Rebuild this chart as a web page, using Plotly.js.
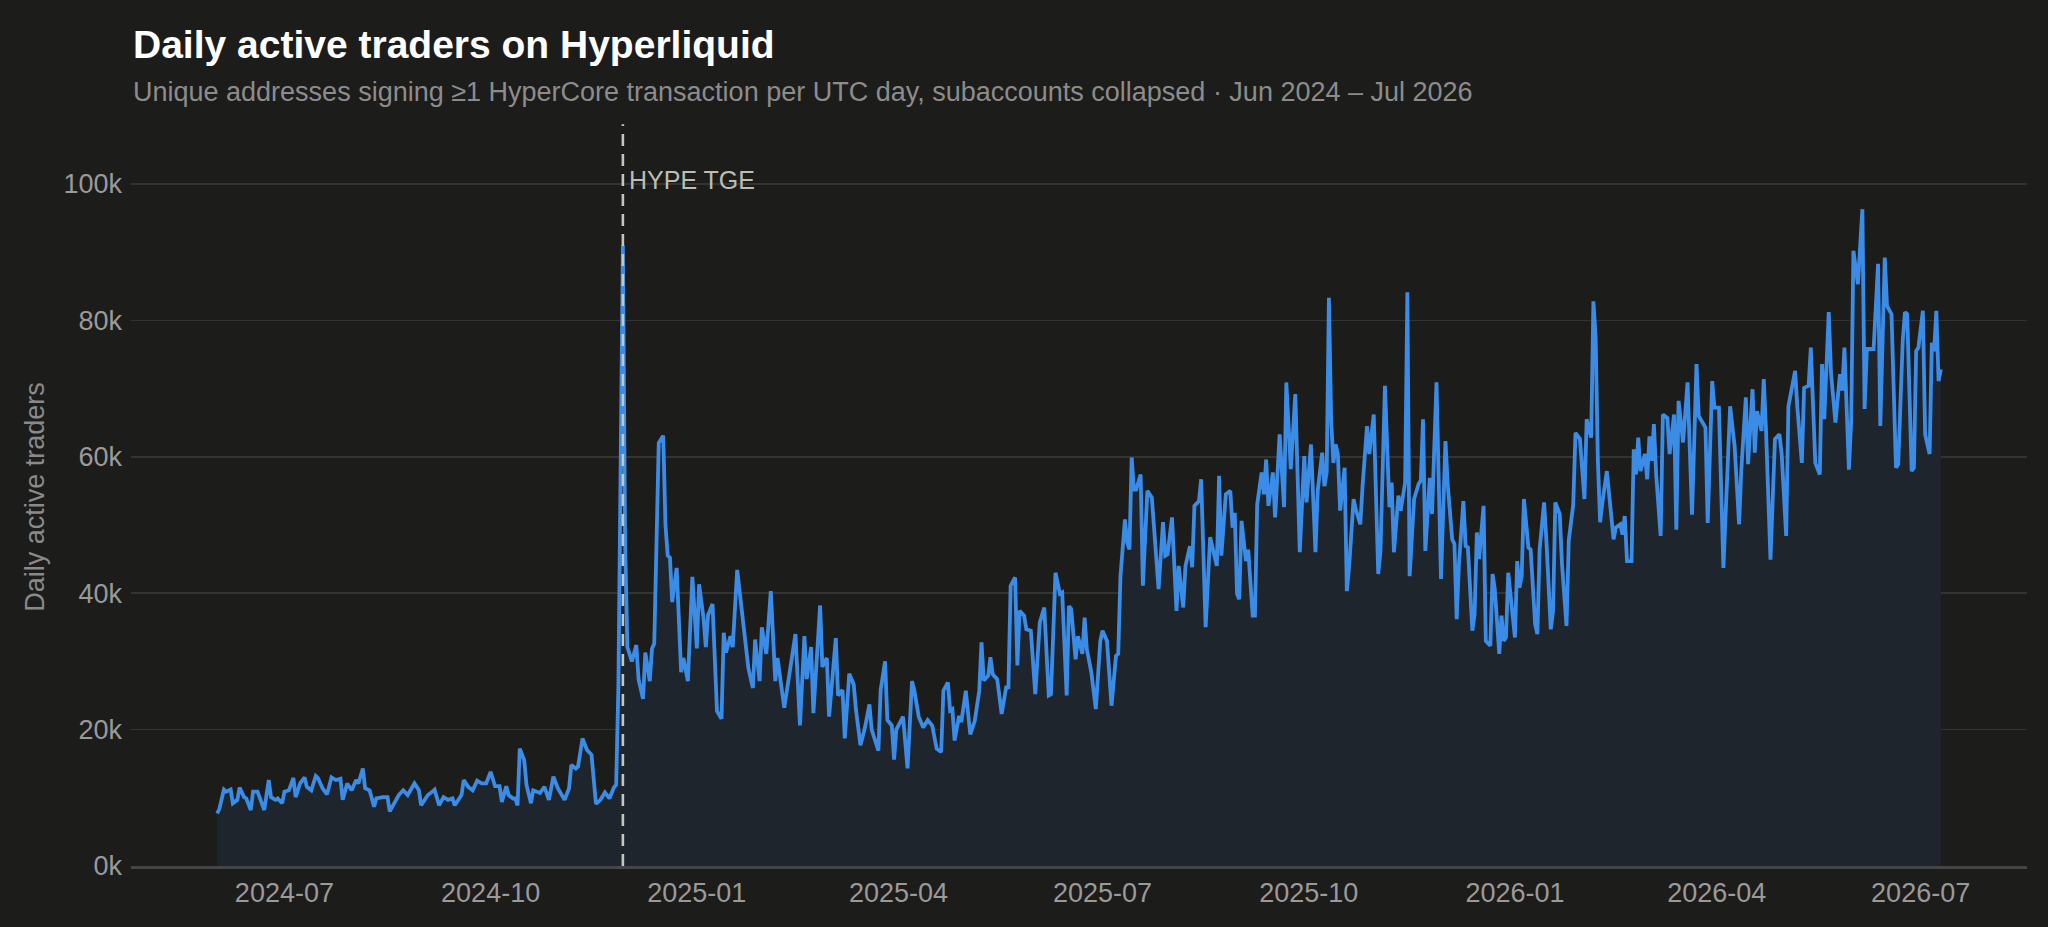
<!DOCTYPE html>
<html>
<head>
<meta charset="utf-8">
<script src="https://cdn.plot.ly/plotly-3.0.1.min.js"></script>
<style>
  html, body { margin: 0; padding: 0; background: #1c1c1b; }
  #chart { width: 2048px; height: 927px; }
</style>
</head>
<body>
<div id="chart"></div>
<script>
// days since 2024-06-01 and daily active traders (thousands)
const startDate = "2024-06-01";
const tgeDate = "2024-11-29";

const dayOffset = [
  0,1,3,4,6,7,9,10,12,13,15,16,18,19,21,23,24,26,27,29,30,32,34,35,37,39,40,42,44,45,
  47,49,51,53,55,56,58,60,62,63,65,66,68,70,71,74,76,77,80,81,83,85,88,90,91,94,96,97,99,101,
  103,105,106,109,110,112,114,116,118,120,122,124,126,127,129,130,132,133,134,135,137,138,140,141,144,145,146,148,150,152,
  153,155,157,158,160,161,163,165,167,168,169,171,173,175,177,178,
  179,181,182,183,185,187,188,190,191,193,194,195,197,199,200,201,202,203,205,207,208,210,212,214,215,217,218,219,221,223,
  225,226,227,229,230,232,234,235,237,239,240,242,243,245,247,249,250,253,255,258,260,262,263,265,266,269,270,272,273,276,
  277,279,280,282,284,285,287,289,291,292,295,296,298,299,301,302,303,306,308,310,311,313,315,317,319,321,
  323,324,326,327,328,329,331,332,334,336,338,340,341,342,344,345,346,348,350,352,353,354,356,357,358,360,361,363,365,367,
  369,371,372,374,376,377,379,380,381,383,384,386,387,388,390,392,394,395,397,399,401,402,403,405,406,407,408,409,410,412,
  413,415,417,418,420,422,423,424,426,428,429,431,432,434,435,436,438,439,441,443,444,446,447,448,450,452,453,454,455,456,
  457,459,460,462,463,464,466,467,468,469,471,472,474,476,477,
  479,481,482,483,485,486,488,490,491,493,494,495,496,497,498,499,500,501,503,504,505,507,508,510,511,513,514,516,518,519,
  521,523,524,525,527,528,530,531,532,534,536,537,538,539,541,542,544,546,548,549,551,552,553,554,556,557,558,560,561,562,
  563,565,566,568,569,570,572,573,574,575,576,577,579,580,581,582,583,585,586,588,589,590,592,593,595,596,597,599,600,602,
  603,605,606,608,610,611,613,614,615,616,617,618,620,
  623,624,626,627,628,629,631,632,633,634,635,637,638,639,640,641,642,644,645,647,648,650,651,652,654,656,658,659,660,661,
  664,665,667,668,670,672,674,675,677,679,680,682,683,685,686,687,689,690,691,693,695,697,698,700,701,704,705,707,708,710,
  711,713,715,716,717,719,720,722,724,725,726,728,729,730,732,733,734,735,736,739,741,742,744,745,747,749,750,752,753,754,
  756,757,758,759,761,762,764,765,766,767,768,769
];

const tradersK = [
  7.7,8.4,11.2,10.9,11.2,9.2,9.7,11.5,10.1,9.9,8.2,10.9,10.9,9.9,8.2,12.6,10.1,9.7,9.9,9.2,10.9,11.1,12.9,10.1,12.1,13.0,11.6,11.1,13.2,12.9,
  11.4,10.5,13.0,12.6,12.8,9.7,12.1,11.1,12.6,12.1,14.3,11.4,11.1,8.7,9.9,10.1,10.1,8.0,9.9,10.4,11.1,10.4,12.1,11.1,8.9,10.4,10.9,11.2,8.9,10.1,
  9.7,9.9,8.9,10.4,12.6,11.6,11.1,12.5,12.1,12.1,13.8,11.7,11.7,9.4,11.7,10.4,9.9,9.9,8.9,17.2,15.5,11.9,9.2,11.1,10.7,11.1,11.6,9.7,13.1,11.4,
  10.9,9.7,11.4,14.8,14.3,14.6,18.7,17.0,16.3,12.1,9.1,9.7,10.8,9.9,11.5,11.9,
  26.3,91.0,47.3,32.1,30.0,32.4,27.4,24.5,31.3,27.1,31.9,32.6,62.0,63.1,50.0,45.5,45.2,38.7,43.7,28.4,30.5,27.1,42.4,31.9,41.3,36.3,32.1,36.8,38.4,22.7,
  21.6,34.2,31.3,33.7,32.1,43.4,37.9,35.5,29.0,26.1,33.2,27.1,35.0,31.1,40.3,27.1,30.5,23.2,27.7,34.0,20.6,33.7,27.4,32.1,22.4,38.2,29.2,30.5,21.9,33.4,
  25.0,25.8,18.7,28.2,26.6,22.9,17.7,20.3,23.7,20.0,16.9,25.8,30.0,21.4,20.6,15.6,20.0,21.9,14.3,27.1,25.8,21.9,20.3,21.4,20.6,17.2,
  16.7,25.7,26.9,22.8,23.0,18.4,22.0,21.1,25.7,19.3,21.3,25.7,32.8,27.2,27.9,30.6,28.1,27.4,22.3,26.2,26.2,41.1,42.3,29.4,37.4,36.7,34.7,34.5,25.2,35.7,
  37.9,25.0,25.2,43.0,39.9,40.1,25.0,38.1,37.7,30.3,33.7,31.1,36.4,31.8,28.4,23.0,33.0,34.5,33.0,23.5,30.8,31.1,42.5,50.8,47.4,46.4,59.9,55.2,55.2,57.4,
  41.1,55.0,54.0,49.4,40.6,50.4,45.5,45.7,51.1,37.4,44.0,37.9,44.0,46.9,43.8,52.8,53.5,56.7,35.0,48.2,46.9,44.0,57.2,45.5,54.5,55.0,49.6,51.8,39.9,39.1,
  50.6,44.7,46.4,36.7,36.7,53.0,57.7,54.5,59.6,52.8,57.7,51.1,63.3,52.6,70.9,
  58.2,69.2,58.4,46.0,60.1,53.3,61.8,46.0,55.0,60.6,55.7,57.7,83.3,65.3,59.1,61.8,60.4,52.1,58.4,40.3,43.8,53.8,52.3,50.1,55.7,64.5,60.4,66.2,42.8,46.2,
  70.4,52.6,56.2,46.0,54.3,52.1,56.2,84.1,42.5,53.8,56.0,56.5,65.5,46.2,56.9,51.6,70.9,42.1,62.3,56.0,47.9,47.2,36.2,44.2,53.5,46.9,46.7,34.5,36.9,48.9,
  45.0,52.8,33.0,32.3,42.8,40.6,31.1,36.7,33.0,33.5,43.0,40.1,33.5,44.7,40.8,42.5,53.8,46.7,46.4,35.5,34.0,46.4,53.3,47.9,34.7,37.4,53.3,51.6,44.2,35.2,
  47.7,53.0,63.5,62.6,53.8,65.5,62.8,82.8,77.5,59.4,50.4,53.3,57.9,
  47.9,49.6,50.1,48.6,51.3,44.7,44.7,61.1,57.4,62.8,57.9,60.4,56.7,63.0,59.4,64.8,57.4,48.4,66.2,65.7,60.4,66.2,49.3,68.2,62.1,70.9,51.5,61.8,73.6,66.0,
  64.3,50.3,71.1,67.2,67.2,43.7,60.8,67.4,61.6,50.1,58.1,68.7,58.9,69.9,60.6,66.7,63.8,71.4,64.0,44.9,62.6,63.3,60.4,48.4,67.4,72.6,67.2,59.1,70.1,70.4,
  76.0,59.1,57.4,73.6,65.5,81.2,72.3,65.0,72.1,69.7,76.0,58.1,65.2,90.2,85.3,90.0,96.3,67.0,75.8,75.8,88.3,64.5,89.2,82.1,80.9,58.4,58.9,77.0,81.2,80.9,
  57.9,58.4,75.5,76.0,81.4,63.3,60.4,76.7,75.5,81.4,71.1,72.8
];

const yTickVals = [0, 20, 40, 60, 80, 100];
const yTickText = ["0k", "20k", "40k", "60k", "80k", "100k"];

const DAY = 86400000;
const t0 = Date.parse(startDate + "T00:00:00Z");
const toDate = (d) => new Date(t0 + d * DAY).toISOString().slice(0, 10);
const dates = dayOffset.map(toDate);

// matplotlib-style 5% padding around the data span
const span = dayOffset[dayOffset.length - 1] - dayOffset[0];
const xRange = [
  new Date(t0 - 0.05 * span * DAY).toISOString(),
  new Date(t0 + (dayOffset[dayOffset.length - 1] + 0.05 * span) * DAY).toISOString()
];

const font = "Liberation Sans, Arial, Helvetica, sans-serif";

const trace = {
  x: dates,
  y: tradersK,
  type: "scatter",
  mode: "lines",
  fill: "tozeroy",
  fillcolor: "#1f252d",
  line: { color: "#3a8ce6", width: 3.8 },
  hoverinfo: "skip"
};

const layout = {
  width: 2048,
  height: 927,
  paper_bgcolor: "#1c1c1b",
  plot_bgcolor: "#1c1c1b",
  margin: { l: 131, r: 21, t: 128, b: 61 },
  showlegend: false,
  font: { family: font, color: "#9a9a9a" },
  xaxis: {
    type: "date",
    range: xRange,
    tick0: "2024-07-01",
    dtick: "M3",
    tickformat: "%Y-%m",
    showgrid: false,
    zeroline: false,
    showline: true,
    linecolor: "#454545",
    linewidth: 2.5,
    ticks: "",
    ticklabelstandoff: 1,
    tickfont: { family: font, size: 27, color: "#9a9a9a" }
  },
  yaxis: {
    range: [0, 108.2],
    tickvals: yTickVals,
    ticktext: yTickText,
    showgrid: true,
    gridcolor: "#333333",
    gridwidth: 1.5,
    zeroline: false,
    showline: false,
    ticks: "",
    ticklabelstandoff: 8,
    tickfont: { family: font, size: 27, color: "#9a9a9a" },
    title: {
      text: "Daily active traders",
      standoff: 10,
      font: { family: font, size: 27, color: "#8a8a8a" }
    }
  },
  shapes: [
    {
      type: "line",
      xref: "x", yref: "paper",
      x0: tgeDate, x1: tgeDate, y0: 0, y1: 1.005,
      line: { color: "#c6c6bd", width: 2.6, dash: "12px,8px" },
      layer: "above"
    }
  ],
  annotations: [
    {
      xref: "paper", yref: "paper", x: 0, y: 1.113,
      xanchor: "left", yanchor: "middle", showarrow: false,
      text: "<b>Daily active traders on Hyperliquid</b>",
      font: { family: font, size: 39, color: "#ffffff" }
    },
    {
      xref: "paper", yref: "paper", x: 0, y: 1.049,
      xanchor: "left", yanchor: "middle", showarrow: false,
      text: "Unique addresses signing ≥1 HyperCore transaction per UTC day, subaccounts collapsed · Jun 2024 – Jul 2026",
      font: { family: font, size: 27, color: "#8c8c8c" }
    },
    {
      xref: "x", yref: "y", x: tgeDate, y: 100.6,
      xanchor: "left", yanchor: "middle", showarrow: false, xshift: 4,
      text: "HYPE TGE",
      font: { family: font, size: 25, color: "#bdbdb5" }
    }
  ]
};

Plotly.newPlot("chart", [trace], layout, { displayModeBar: false, staticPlot: true });
</script>
</body>
</html>
